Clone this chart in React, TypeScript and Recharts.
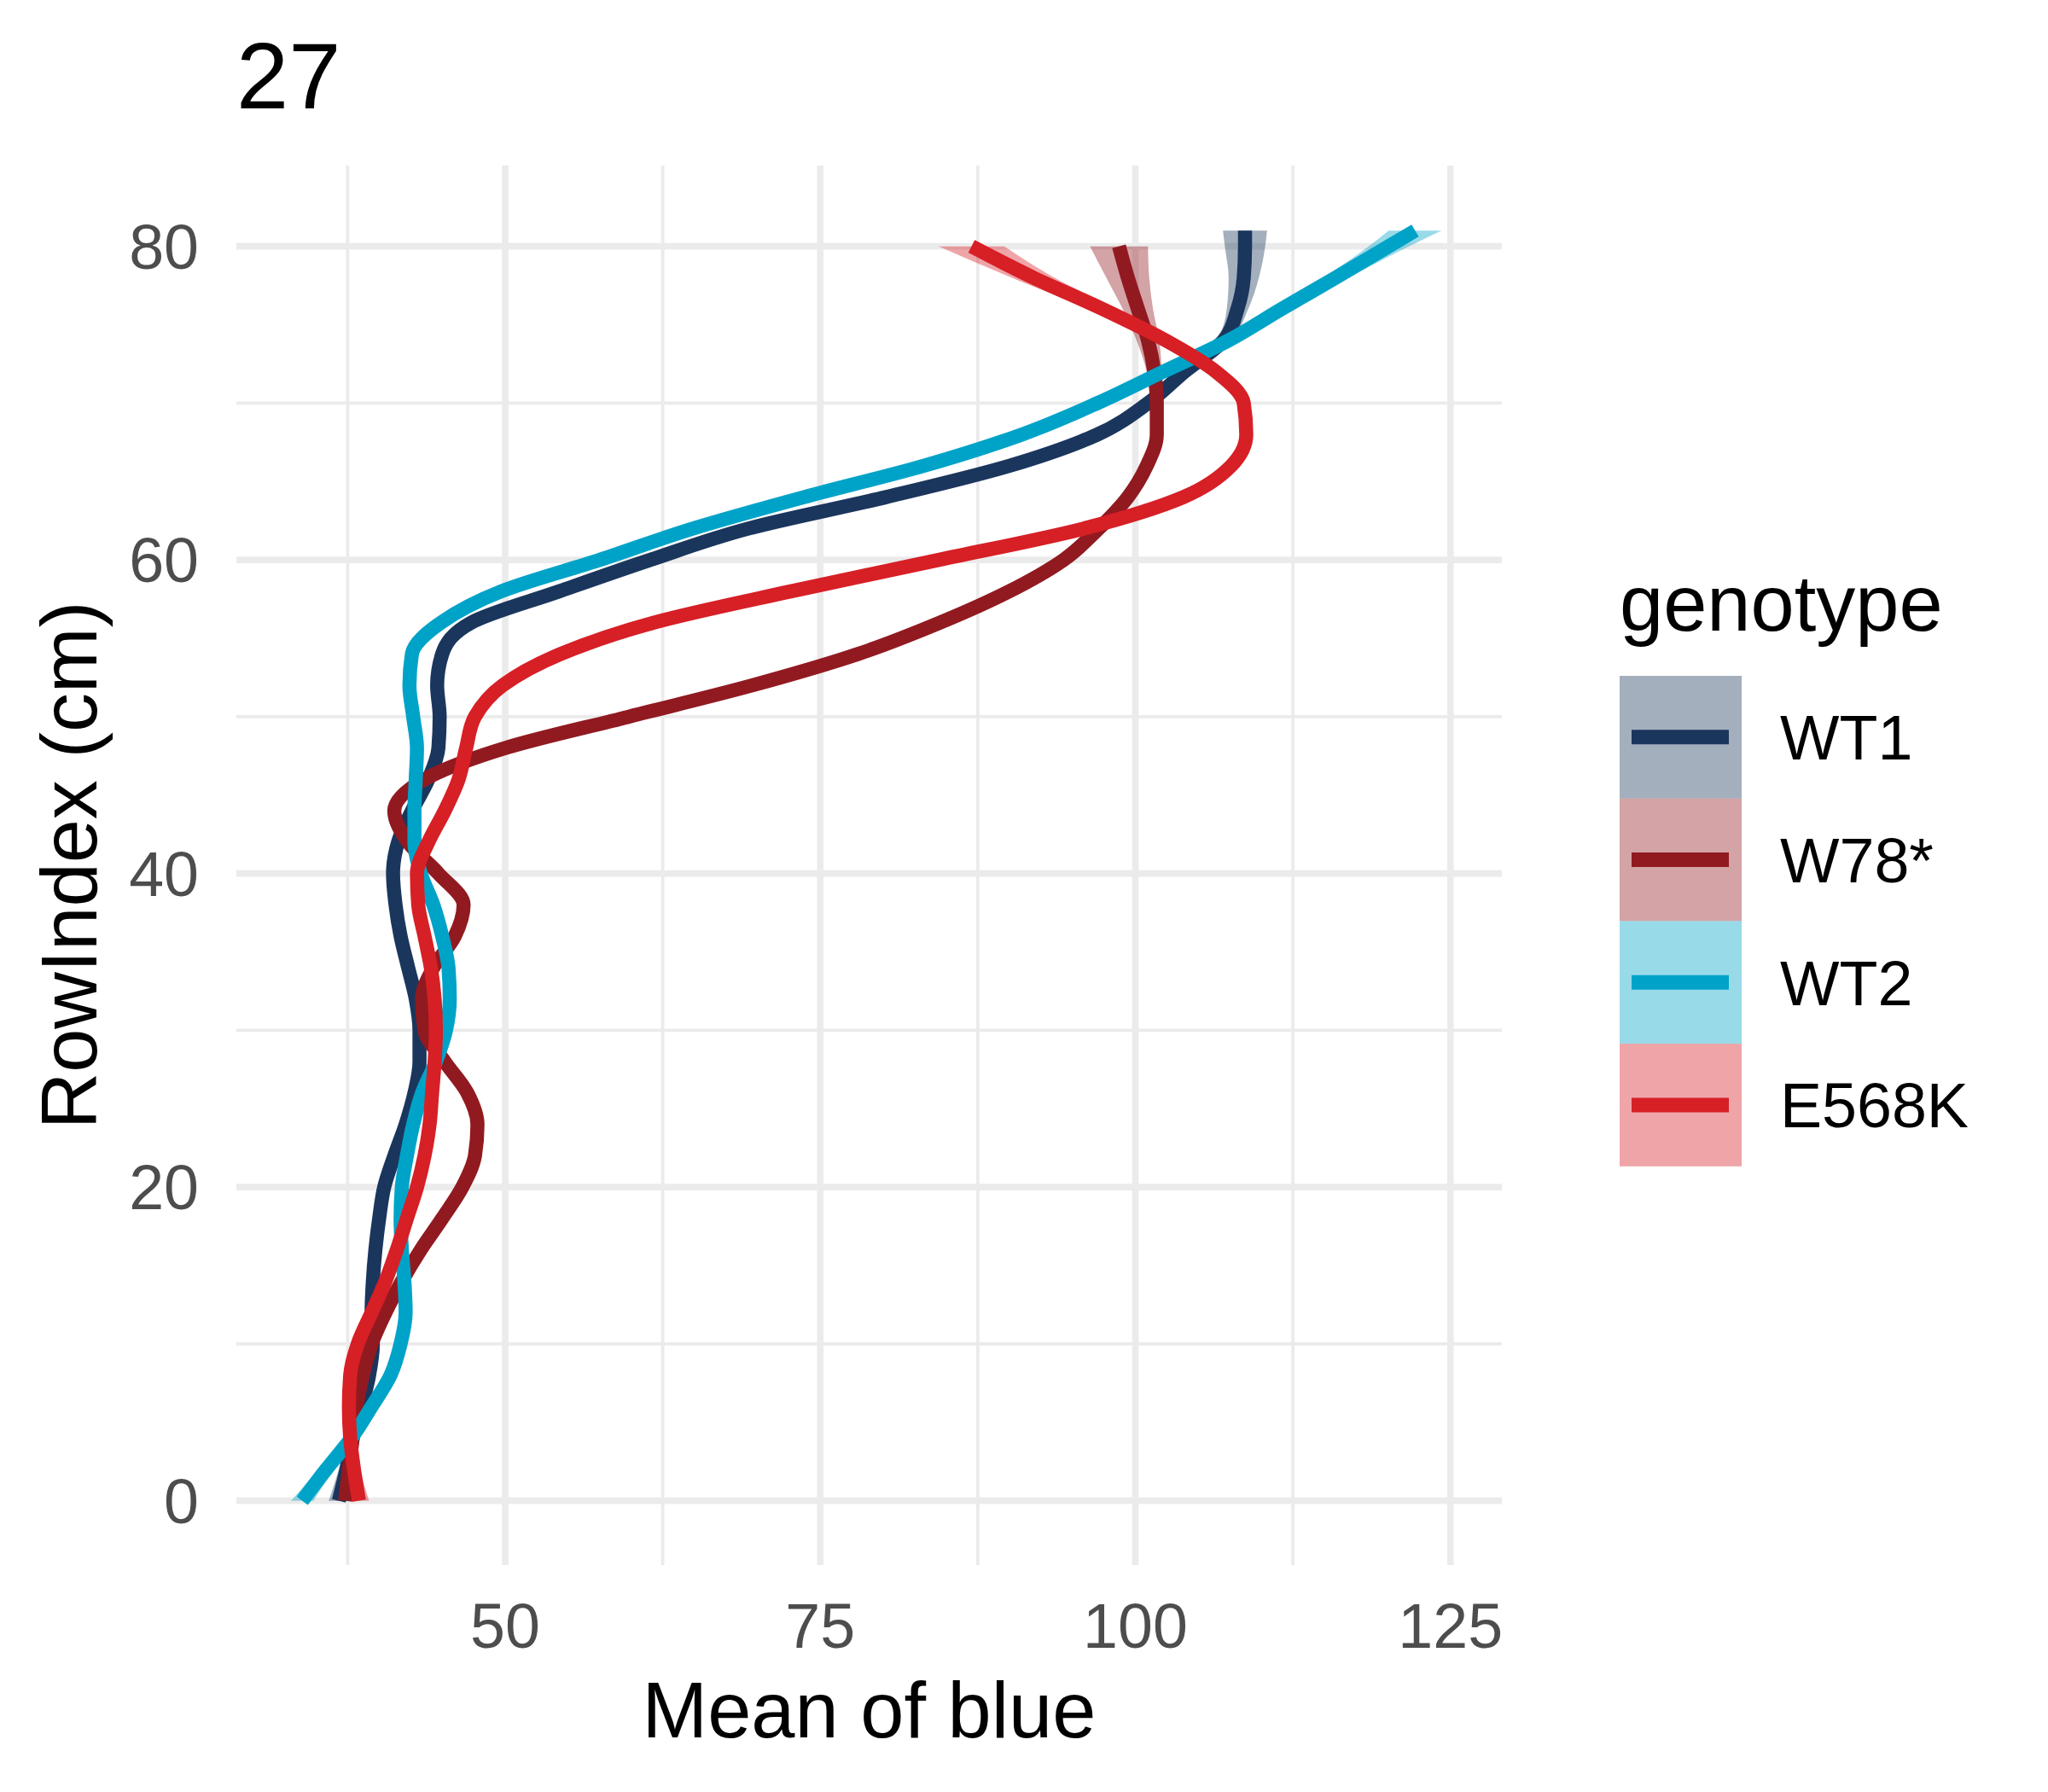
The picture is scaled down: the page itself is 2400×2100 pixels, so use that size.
import React from 'react';
import { ComposedChart, Line, Area, XAxis, YAxis, CartesianGrid } from 'recharts';

const rowIndex = [0, 2, 4, 6, 8, 10, 12, 14, 16, 18, 20, 22, 24, 26, 28, 30, 32, 34, 36, 38, 40, 42, 44, 46, 48, 50, 52, 54, 56, 58, 60, 62, 64, 66, 68, 70, 72, 74, 76, 78, 80, 81];

const wt1Mean = [36.8, 37.4, 37.9, 38.6, 39.2, 39.5, 39.4, 39.5, 39.7, 40.0, 40.4, 41.2, 42.1, 42.8, 43.2, 43.2, 42.9, 42.3, 41.7, 41.3, 41.1, 41.5, 42.6, 43.9, 44.7, 44.8, 44.6, 45.0, 47.3, 54.3, 61.5, 69.3, 80.2, 90.0, 97.0, 101.0, 103.9, 107.0, 108.1, 108.6, 108.7, 108.7];
const wt1Se = [0.8, 0.6, 0.4, 0.4, 0.4, 0.4, 0.4, 0.4, 0.4, 0.4, 0.4, 0.4, 0.4, 0.4, 0.4, 0.4, 0.4, 0.4, 0.4, 0.4, 0.4, 0.4, 0.4, 0.4, 0.4, 0.4, 0.4, 0.4, 0.4, 0.4, 0.4, 0.4, 0.4, 0.4, 0.4, 0.4, 0.5, 0.6, 0.85, 1.2, 1.6, 1.75];

const w78Mean = [37.3, 37.6, 37.9, 38.2, 38.7, 39.4, 40.5, 41.8, 43.3, 45.0, 46.6, 47.6, 47.8, 47.0, 45.2, 43.6, 43.4, 44.3, 46.0, 46.7, 44.7, 42.3, 41.2, 43.6, 50.0, 59.8, 69.6, 78.0, 84.5, 90.0, 94.3, 97.1, 99.4, 100.9, 101.7, 101.7, 101.5, 101.0, 100.2, 99.4, 98.7, null];
const w78Se = [0.7, 0.5, 0.4, 0.4, 0.4, 0.4, 0.4, 0.4, 0.4, 0.4, 0.4, 0.4, 0.4, 0.4, 0.4, 0.4, 0.4, 0.4, 0.4, 0.4, 0.4, 0.4, 0.4, 0.4, 0.4, 0.4, 0.4, 0.4, 0.4, 0.4, 0.4, 0.4, 0.4, 0.4, 0.4, 0.5, 0.6, 0.9, 1.2, 1.7, 2.3, null];

const wt2Mean = [33.9, 35.8, 37.8, 39.4, 40.9, 41.7, 42.1, 42.0, 41.8, 41.7, 41.8, 42.2, 42.7, 43.4, 44.5, 45.3, 45.6, 45.5, 45.0, 44.3, 43.3, 42.8, 42.8, 42.9, 43.0, 42.7, 42.4, 42.6, 44.9, 49.7, 57.5, 64.9, 73.7, 83.2, 91.0, 97.0, 102.2, 107.4, 111.6, 115.9, 120.1, 122.2];
const wt2Se = [0.9, 0.6, 0.4, 0.4, 0.4, 0.4, 0.4, 0.4, 0.4, 0.4, 0.4, 0.4, 0.4, 0.4, 0.4, 0.4, 0.4, 0.4, 0.4, 0.4, 0.4, 0.4, 0.4, 0.4, 0.4, 0.4, 0.4, 0.4, 0.4, 0.4, 0.4, 0.4, 0.4, 0.4, 0.4, 0.4, 0.4, 0.5, 0.7, 1.0, 1.6, 2.1];

const e568kMean = [38.4, 38.0, 37.7, 37.6, 37.7, 38.3, 39.4, 40.5, 41.4, 42.2, 43.0, 43.6, 44.0, 44.2, 44.4, 44.5, 44.4, 44.1, 43.6, 43.1, 43.0, 43.9, 45.2, 46.3, 46.9, 47.6, 49.8, 54.4, 61.8, 72.7, 84.4, 95.9, 103.8, 107.6, 108.8, 108.6, 106.4, 102.4, 97.4, 91.9, 87.0, null];
const e568kSe = [0.8, 0.5, 0.4, 0.4, 0.4, 0.4, 0.4, 0.4, 0.4, 0.4, 0.4, 0.4, 0.4, 0.4, 0.4, 0.4, 0.4, 0.4, 0.4, 0.4, 0.4, 0.4, 0.4, 0.4, 0.4, 0.4, 0.4, 0.4, 0.4, 0.4, 0.4, 0.4, 0.4, 0.4, 0.4, 0.5, 0.6, 0.8, 1.1, 1.7, 2.6, null];

const xTicks = [37.5, 50, 62.5, 75, 87.5, 100, 112.5, 125];
const yTicks = [0, 10, 20, 30, 40, 50, 60, 70, 80];
const xDomain = [28.67, 129.08];
const yDomain = [-4.1, 85.15];

const genotypes = ['WT1', 'W78*', 'WT2', 'E568K'];
const colors = ['#1B365D', '#911A20', '#00A3C8', '#D71F26'];

const series = [
  { key: 'wt1', name: genotypes[0], color: colors[0], mean: wt1Mean, se: wt1Se },
  { key: 'w78', name: genotypes[1], color: colors[1], mean: w78Mean, se: w78Se },
  { key: 'wt2', name: genotypes[2], color: colors[2], mean: wt2Mean, se: wt2Se },
  { key: 'e568k', name: genotypes[3], color: colors[3], mean: e568kMean, se: e568kSe },
];

const chartData = rowIndex.map((y, i) => {
  const row: any = { y };
  series.forEach((s) => {
    const m = s.mean[i];
    const e = s.se[i];
    row[s.key] = m;
    row[s.key + 'Band'] = m == null || e == null ? null : [m - e, m + e];
  });
  return row;
});

const FONT = '"Liberation Sans", Arial, Helvetica, sans-serif';
const GRID = '#EBEBEB';
const MAJOR_W = 7.6;
const MINOR_W = 3.8;

const hLine = (p: any) => {
  const v = yDomain[1] - ((p.y1 - p.y) / p.height) * (yDomain[1] - yDomain[0]);
  const major = Math.abs(v / 20 - Math.round(v / 20)) < 0.05;
  return <line key={`h-${p.index}`} x1={p.x1} x2={p.x2} y1={p.y1} y2={p.y2} stroke={GRID} strokeWidth={major ? MAJOR_W : MINOR_W} />;
};
const vLine = (p: any) => {
  const v = xDomain[0] + ((p.x1 - p.x) / p.width) * (xDomain[1] - xDomain[0]);
  const major = Math.abs(v / 25 - Math.round(v / 25)) < 0.02;
  return <line key={`v-${p.index}`} x1={p.x1} x2={p.x2} y1={p.y1} y2={p.y2} stroke={GRID} strokeWidth={major ? MAJOR_W : MINOR_W} />;
};

const tickStyle = { fontSize: 73.6, fill: '#4D4D4D', fontFamily: FONT };

const LEG_X = 1898;
const LEG_Y = 792;
const KEY = 143.7;

export default function App() {
  return (
    <div style={{ position: 'absolute', left: 0, top: 0, width: 2400, height: 2100, background: '#fff' }}>
      <ComposedChart
        width={2400}
        height={2100}
        layout="vertical"
        data={chartData}
        margin={{ top: 194, right: 640, bottom: 0, left: 0 }}
      >
        <CartesianGrid horizontal={hLine} vertical={vLine} syncWithTicks />
        <XAxis
          type="number"
          domain={xDomain}
          allowDataOverflow
          ticks={xTicks}
          interval={0}
          tickFormatter={(v: number) => (v % 25 === 0 ? String(v) : '')}
          tickLine={false}
          axisLine={false}
          tickSize={0}
          tickMargin={45}
          height={266}
          tick={tickStyle}
        />
        <YAxis
          type="number"
          dataKey="y"
          domain={yDomain}
          allowDataOverflow
          reversed
          ticks={yTicks}
          interval={0}
          tickFormatter={(v: number) => (v % 20 === 0 ? String(v) : '')}
          tickLine={false}
          axisLine={false}
          tickSize={0}
          tickMargin={44}
          width={277}
          tick={tickStyle}
        />
        {series.map((s) => (
          <Area
            key={s.key + 'Band'}
            dataKey={s.key + 'Band'}
            type="monotone"
            fill={s.color}
            fillOpacity={0.4}
            stroke="none"
            isAnimationActive={false}
            dot={false}
            activeDot={false}
          />
        ))}
        {series.map((s) => (
          <Line
            key={s.key}
            dataKey={s.key}
            name={s.name}
            type="monotone"
            stroke={s.color}
            strokeWidth={16.5}
            dot={false}
            activeDot={false}
            isAnimationActive={false}
          />
        ))}
      </ComposedChart>
      <svg
        width={2400}
        height={2100}
        style={{ position: 'absolute', left: 0, top: 0, pointerEvents: 'none' }}
        fontFamily={FONT}
      >
        <text x={277} y={127} fontSize={110} fill="#000">27</text>
        <text x={1018.5} y={2036} fontSize={92} fill="#000" textAnchor="middle">Mean of blue</text>
        <text x={113} y={1014} fontSize={92} fill="#000" textAnchor="middle" transform="rotate(-90 113 1014)">RowIndex (cm)</text>
        <text x={1898} y={739} fontSize={92} fill="#000">genotype</text>
        {series.map((s, i) => {
          const top = LEG_Y + i * KEY;
          const cy = top + KEY / 2;
          return (
            <g key={s.key}>
              <rect x={LEG_X} y={top} width={143} height={KEY} fill={s.color} fillOpacity={0.4} />
              <line x1={1912} x2={2026} y1={cy} y2={cy} stroke={s.color} strokeWidth={17} />
              <text x={2086} y={cy + 26.5} fontSize={73.6} fill="#000">{s.name}</text>
            </g>
          );
        })}
      </svg>
    </div>
  );
}
